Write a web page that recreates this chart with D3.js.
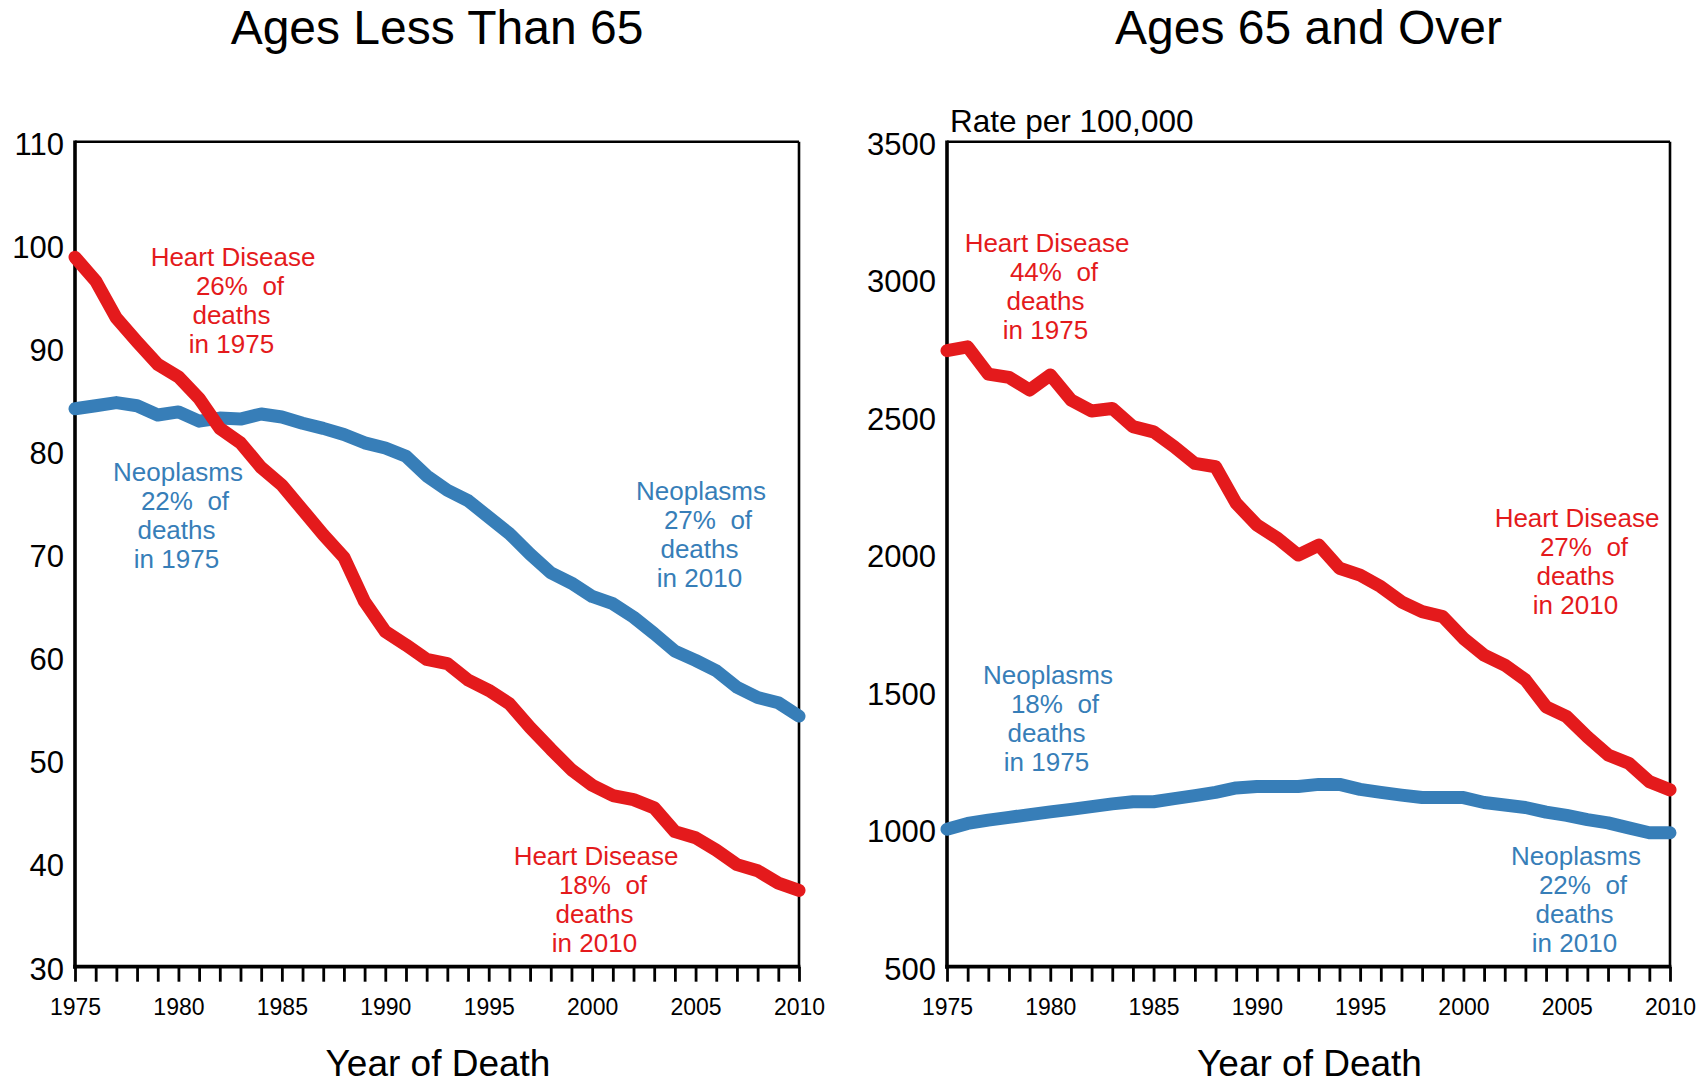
<!DOCTYPE html>
<html>
<head>
<meta charset="utf-8">
<script src="https://cdn.jsdelivr.net/npm/d3@7/dist/d3.min.js"></script>
<style>
  html, body { margin: 0; padding: 0; background: #fff; }
  svg { display: block; }
  text { font-family: "Liberation Sans", Arial, Helvetica, sans-serif; }
</style>
</head>
<body>
<svg id="chart" width="1706" height="1086"></svg>
<script>
// ---------- data ----------
const years = [1975,1976,1977,1978,1979,1980,1981,1982,1983,1984,1985,1986,1987,1988,1989,1990,1991,1992,
               1993,1994,1995,1996,1997,1998,1999,2000,2001,2002,2003,2004,2005,2006,2007,2008,2009,2010];
const xTickLabels = [1975,1980,1985,1990,1995,2000,2005,2010];

const under65Heart = [98.8,96.5,92.9,90.6,88.4,87.2,85.1,82.2,80.8,78.4,76.7,74.3,71.9,69.7,65.4,62.5,61.2,59.8,
                      59.4,57.8,56.8,55.5,53.2,51.1,49.1,47.6,46.6,46.2,45.4,43.1,42.5,41.3,39.9,39.3,38.1,37.4];
const under65Neo   = [84.1,84.4,84.7,84.4,83.5,83.8,82.9,83.2,83.1,83.6,83.3,82.7,82.2,81.6,80.8,80.3,79.5,77.6,
                      76.2,75.2,73.6,72.0,70.0,68.2,67.2,65.9,65.2,63.9,62.3,60.6,59.7,58.7,57.1,56.1,55.6,54.3];
const over65Heart  = [2740,2754,2655,2643,2597,2652,2561,2521,2530,2464,2445,2391,2330,2318,2185,2106,2058,1997,
                      2033,1949,1924,1882,1827,1791,1773,1694,1633,1597,1543,1445,1409,1336,1270,1240,1173,1143];
const over65Neo    = [1000,1021,1033,1043,1053,1063,1072,1082,1092,1100,1100,1111,1122,1134,1150,1155,1155,1155,
                      1163,1163,1145,1134,1124,1115,1115,1115,1097,1088,1079,1062,1050,1035,1023,1005,987,987];

const under65Ticks = [30,40,50,60,70,80,90,100,110];
const over65Ticks  = [500,1000,1500,2000,2500,3000,3500];

const titles = ["Ages Less Than 65", "Ages 65 and Over"];
const xAxisTitle = "Year of Death";
const yAxisNote = "Rate per 100,000";

const under65Notes = [
  ["Heart Disease", "26%  of", "deaths", "in 1975"],
  ["Neoplasms", "22%  of", "deaths", "in 1975"],
  ["Neoplasms", "27%  of", "deaths", "in 2010"],
  ["Heart Disease", "18%  of", "deaths", "in 2010"]
];
const over65Notes = [
  ["Heart Disease", "44%  of", "deaths", "in 1975"],
  ["Neoplasms", "18%  of", "deaths", "in 1975"],
  ["Heart Disease", "27%  of", "deaths", "in 2010"],
  ["Neoplasms", "22%  of", "deaths", "in 2010"]
];

// ---------- drawing ----------
const RED = "#e41a1c", BLUE = "#377eb8";
const svg = d3.select("#chart");

function panel(opts) {
  const {left, right, top, bottom, yDomain, yTicks, heart, neo, title, notes} = opts;
  const x = d3.scaleLinear().domain([1975, 2010]).range([left, right]);
  const y = d3.scaleLinear().domain(yDomain).range([bottom, top]);
  const g = svg.append("g");

  // title
  g.append("text").attr("x", (left + right) / 2).attr("y", 44)
    .attr("text-anchor", "middle").attr("font-size", 48).text(title);

  // x axis ticks + labels
  const xa = d3.axisBottom(x).tickValues(years).tickSize(15).tickSizeOuter(0).tickPadding(17)
    .tickFormat(d => xTickLabels.includes(d) ? String(d) : "");
  const xg = g.append("g").attr("transform", `translate(0,${bottom})`).call(xa);
  xg.select(".domain").remove();
  xg.selectAll(".tick line").attr("stroke", "#000").attr("stroke-width", 2.8);
  xg.selectAll(".tick text").attr("font-size", 23).attr("fill", "#000")
    .attr("font-family", '"Liberation Sans", Arial, sans-serif');

  // y axis labels
  const ya = d3.axisLeft(y).tickValues(yTicks).tickSize(0).tickPadding(11).tickFormat(d => String(d));
  const yg = g.append("g").attr("transform", `translate(${left},0)`).call(ya);
  yg.select(".domain").remove();
  yg.selectAll(".tick text").attr("font-size", 31).attr("fill", "#000").attr("dy", "0.4em")
    .attr("font-family", '"Liberation Sans", Arial, sans-serif');

  // frame
  g.append("line").attr("x1", left).attr("x2", right).attr("y1", top).attr("y2", top)
    .attr("stroke", "#000").attr("stroke-width", 2.6);
  g.append("line").attr("x1", right).attr("x2", right).attr("y1", top).attr("y2", bottom)
    .attr("stroke", "#000").attr("stroke-width", 2.6);
  g.append("line").attr("x1", left).attr("x2", left).attr("y1", top - 1.3).attr("y2", bottom + 2)
    .attr("stroke", "#000").attr("stroke-width", 3.6);
  g.append("line").attr("x1", left - 1.8).attr("x2", right + 1.3).attr("y1", bottom).attr("y2", bottom)
    .attr("stroke", "#000").attr("stroke-width", 3.8);

  // x axis title
  g.append("text").attr("x", (left + right) / 2 + 1).attr("y", 1076)
    .attr("text-anchor", "middle").attr("font-size", 37).text(xAxisTitle);

  // series
  const line = d3.line().x((d, i) => x(years[i])).y(d => y(d));
  [[neo, BLUE], [heart, RED]].forEach(([vals, col]) => {
    g.append("path").datum(vals).attr("d", line).attr("fill", "none")
      .attr("stroke", col).attr("stroke-width", 13)
      .attr("stroke-linejoin", "round").attr("stroke-linecap", "round");
  });

  // annotations
  notes.forEach(n => {
    const t = g.append("text").attr("text-anchor", "middle").attr("font-size", 26)
      .attr("fill", n.color).style("white-space", "pre");
    n.lines.forEach((s, i) => {
      const dx = i === 1 ? 7 : (i === 0 ? 0 : -1.5);
      t.append("tspan").attr("x", n.cx + dx).attr("y", n.y0 + i * 29).text(s);
    });
  });
  return {x, y};
}

panel({
  left: 75, right: 799, top: 141.7, bottom: 966.7,
  yDomain: [30, 110], yTicks: under65Ticks,
  heart: under65Heart, neo: under65Neo, title: titles[0],
  notes: [
    {lines: under65Notes[0], color: RED,  cx: 233, y0: 266},
    {lines: under65Notes[1], color: BLUE, cx: 178, y0: 481},
    {lines: under65Notes[2], color: BLUE, cx: 701, y0: 500},
    {lines: under65Notes[3], color: RED,  cx: 596, y0: 865}
  ]
});

panel({
  left: 947, right: 1670, top: 141.7, bottom: 966.7,
  yDomain: [500, 3500], yTicks: over65Ticks,
  heart: over65Heart, neo: over65Neo, title: titles[1],
  notes: [
    {lines: over65Notes[0], color: RED,  cx: 1047, y0: 252},
    {lines: over65Notes[1], color: BLUE, cx: 1048, y0: 684},
    {lines: over65Notes[2], color: RED,  cx: 1577, y0: 527},
    {lines: over65Notes[3], color: BLUE, cx: 1576, y0: 865}
  ]
});

svg.append("text").attr("x", 950).attr("y", 132).attr("font-size", 31.5).text(yAxisNote);
</script>
</body>
</html>
